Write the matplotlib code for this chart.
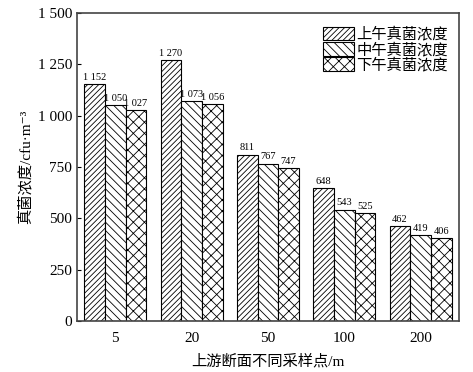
import matplotlib
matplotlib.use("Agg")
import matplotlib.pyplot as plt
import numpy as np

plt.rcParams['font.family'] = ['Liberation Serif', 'Noto Sans CJK SC', 'DejaVu Sans']
plt.rcParams['hatch.linewidth'] = 0.6

categories = ['5', '20', '50', '100', '200']
series_names = ['上午真菌浓度', '中午真菌浓度', '下午真菌浓度']
morning = [1152, 1270, 811, 648, 462]
noon = [1050, 1073, 767, 543, 419]
afternoon = [1027, 1056, 747, 525, 406]
y_ticks = [0, 250, 500, 750, 1000, 1250, 1500]
y_tick_labels = ['0', '250', '500', '750', '1 000', '1 250', '1 500']

def fmt(v):
    return f"{v:,}".replace(",", " ")

fig = plt.figure(figsize=(4.73, 3.72), dpi=100)
ax = fig.add_axes([0.163, 0.137, 0.807, 0.828])

x = np.arange(len(categories))
w = 0.27
hatches = ['//////', '\\\\\\\\', 'xxx']
all_series = [morning, noon, afternoon]
for i, (vals, h, name) in enumerate(zip(all_series, hatches, series_names)):
    pos = x + (i - 1) * w
    ax.bar(pos, vals, width=w, facecolor='white', edgecolor='black',
           hatch=h, linewidth=0.8, label=name, zorder=1)
    for p, v in zip(pos, vals):
        ax.text(p, v + 10, fmt(v), ha='center', va='bottom', fontsize=7.5,
                zorder=5)

ax.set_xlim(-0.5, 4.5)
ax.set_ylim(0, 1500)
ax.set_yticks(y_ticks)
ax.set_yticklabels(y_tick_labels, fontsize=11)
ax.set_xticks(x)
ax.set_xticklabels(categories, fontsize=11)
ax.tick_params(axis='y', direction='in', length=3)
ax.tick_params(axis='x', length=0, pad=8)
for s in ax.spines.values():
    s.set_linewidth(1.2)
    s.set_color('#444444')

ax.set_xlabel('上游断面不同采样点/m', fontsize=11, labelpad=6)
ax.set_ylabel('真菌浓度/cfu·m⁻³', fontsize=11, labelpad=4)

ax.legend(loc='upper right', frameon=False, fontsize=11, handlelength=2.0,
          handleheight=1.0, labelspacing=0.0, borderaxespad=0.3,
          handletextpad=0.2, bbox_to_anchor=(1.0, 0.99))

fig.savefig('out.png', dpi=100)
